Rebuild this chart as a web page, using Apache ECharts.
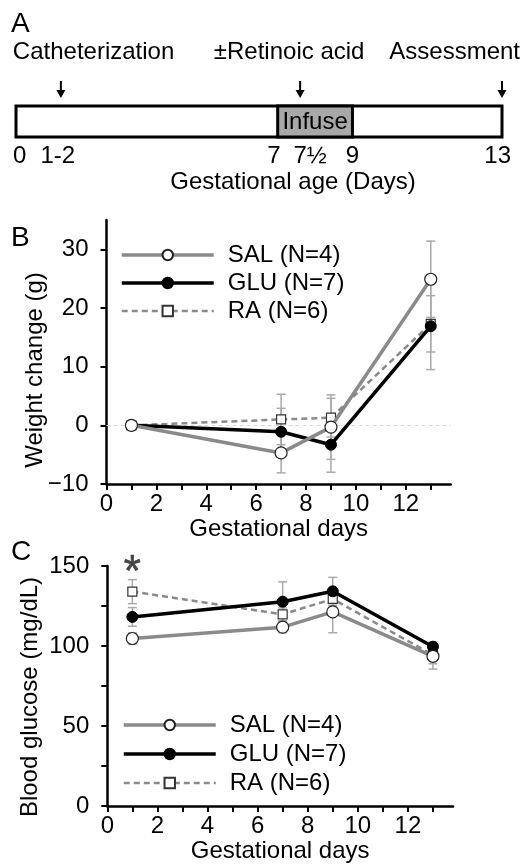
<!DOCTYPE html>
<html><head><meta charset="utf-8">
<script src="https://cdn.jsdelivr.net/npm/echarts@6/dist/echarts.min.js"></script>
<style>html,body{margin:0;padding:0;background:#fff}#c{width:526px;height:864px}</style>
</head><body><div id="c"></div>
<script>
// ---------- data ----------
const days = [1, 7, 9, 13];
const seriesNames = ['SAL (N=4)', 'GLU (N=7)', 'RA (N=6)'];
// Panel B: weight change (g)
const salWeight = [0, -4.7, -0.3, 24.9];
const salWeightErr = [0, 3.4, 5.5, 6.5];
const gluWeight = [0, -1.1, -3.3, 16.9];
const gluWeightErr = [0, 4.0, 4.7, 7.4];
const raWeight = [0, 1.0, 1.3, 17.3];
const raWeightErr = [0, 4.3, 3.3, 4.8];
// Panel C: blood glucose (mg/dL)
const salGlucose = [104.7, 111.8, 121.3, 93.6];
const salGlucoseErr = [3.5, 3.5, 13, 8];
const gluGlucose = [118.2, 127.7, 134.2, 99.6];
const gluGlucoseErr = [5.8, 12.4, 8.7, 3];
const raGlucose = [134, 119.8, 129.4, 94.4];
const raGlucoseErr = [7.5, 4, 5, 5.5];
const significance = [[1, 148, '*']];
// ticks
const dayTicks = [0, 1, 2, 3, 4, 5, 6, 7, 8, 9, 10, 11, 12, 13];
const dayTickLabels = [0, 2, 4, 6, 8, 10, 12];
const weightTicks = [-10, 0, 10, 20, 30];
const glucoseTicks = [0, 25, 50, 75, 100, 125, 150];
const glucoseTickLabels = [0, 50, 100, 150];
// Panel A: timeline schematic
const timelineSpan = [0, 13];
const infuseSpan = [7, 9];
const infuseLabel = 'Infuse';
const timelineTickDays = [0, 1.2, 7, 7.5, 9, 13];
const timelineTickLabels = ['0', '1-2', '7', '7½', '9', '13'];
const eventDays = [1.2, 7.6, 13];
const eventLabels = ['Catheterization', '±Retinoic acid', 'Assessment'];

// ---------- styles ----------
const FONT = "'Liberation Sans', Arial, sans-serif";
const FS = 24;
const GRAY = '#8a8a8a';
const ERR = '#aaaaaa';
const tickLabelAlign = [['left', -3], ['center', -3], ['right', 3], ['left', -3], ['center', 0], ['right', 9]];
const eventAlign = [['left', -48], ['center', -11], ['right', 18]];

const styleOf = [
  { lineStyle: { color: GRAY, width: 3.5 }, itemStyle: { color: '#fff', borderColor: '#222', borderWidth: 1.2 }, symbol: 'circle', symbolSize: 12 },
  { lineStyle: { color: '#000', width: 3.5 }, itemStyle: { color: '#000', borderColor: '#000', borderWidth: 1 }, symbol: 'circle', symbolSize: 11 },
  { lineStyle: { color: GRAY, width: 2.5, type: [6, 4] }, itemStyle: { color: '#fff', borderColor: '#333', borderWidth: 1.2 }, symbol: 'rect', symbolSize: 9 }
];

function lineSeries(idx, values, axisIdx, extra) {
  return Object.assign({
    type: 'line', name: seriesNames[idx], xAxisIndex: axisIdx, yAxisIndex: axisIdx,
    data: days.map((d, i) => [d, values[i]]),
    color: styleOf[idx].lineStyle.color,
    lineStyle: styleOf[idx].lineStyle, itemStyle: styleOf[idx].itemStyle,
    symbol: styleOf[idx].symbol, symbolSize: styleOf[idx].symbolSize,
    showAllSymbol: true, z: 10 - idx, animation: false, emphasis: { disabled: true }
  }, extra || {});
}

function errData(values, errs) {
  const out = [];
  days.forEach((d, i) => { if (errs[i] > 0) out.push([d, values[i] - errs[i], values[i] + errs[i]]); });
  return out;
}
function errRender(params, api) {
  const x = api.value(0);
  const p1 = api.coord([x, api.value(1)]), p2 = api.coord([x, api.value(2)]);
  const w = 4.5, st = { stroke: ERR, lineWidth: 1.5 };
  return { type: 'group', children: [
    { type: 'line', shape: { x1: p1[0], y1: p1[1], x2: p2[0], y2: p2[1] }, style: st },
    { type: 'line', shape: { x1: p1[0] - w, y1: p1[1], x2: p1[0] + w, y2: p1[1] }, style: st },
    { type: 'line', shape: { x1: p2[0] - w, y1: p2[1], x2: p2[0] + w, y2: p2[1] }, style: st }
  ] };
}
function errSeries(values, errs, axisIdx) {
  return { type: 'custom', xAxisIndex: axisIdx, yAxisIndex: axisIdx, data: errData(values, errs),
    encode: { x: 0, y: [1, 2] }, renderItem: errRender, z: 2, silent: true, animation: false };
}
const minusFmt = v => String(v).replace('-', '\u2212');

const axisCommon = {
  axisLine: { show: true, onZero: false, lineStyle: { color: '#000', width: 2.5 } },
  axisTick: { show: true, length: 6, lineStyle: { color: '#000', width: 2 } },
  splitLine: { show: false },
  axisLabel: { color: '#000', fontSize: FS, fontFamily: FONT, formatter: minusFmt }
};
function xAxisDays(gridIndex) {
  return echarts.util.merge({
    type: 'value', gridIndex, min: 0, max: 13.8,
    name: 'Gestational days', nameLocation: 'middle', nameGap: 31,
    nameTextStyle: { color: '#000', fontSize: FS, fontFamily: FONT },
    axisTick: { customValues: dayTicks },
    axisLabel: { customValues: dayTickLabels, margin: 8 }
  }, echarts.util.clone(axisCommon), false);
}
function legendAt(left, top, gap) {
  return { left, top, padding: 0, orient: 'vertical', itemWidth: 92, itemHeight: 13, itemGap: gap, selectedMode: false,
    data: seriesNames, lineStyle: { width: 'inherit' },
    textStyle: { fontSize: FS, fontFamily: FONT, color: '#000', lineHeight: 24, padding: [0, 0, 0, 9] } };
}

const option = {
  backgroundColor: '#fff',
  animation: false,
  textStyle: { fontFamily: FONT },
  grid: [
    { left: 106.5, right: 75.3, top: 220, bottom: 380 },
    { left: 107.3, right: 73, top: 566, bottom: 50.7 },
    { left: 16, width: 486, top: 106, height: 31 }
  ],
  xAxis: [
    xAxisDays(0),
    xAxisDays(1),
    { type: 'value', gridIndex: 2, min: 0, max: 13, show: false }
  ],
  yAxis: [
    echarts.util.merge({ type: 'value', gridIndex: 0, min: -10, max: 35,
      axisTick: { customValues: weightTicks }, axisLabel: { customValues: weightTicks, margin: 18 } }, echarts.util.clone(axisCommon), false),
    echarts.util.merge({ type: 'value', gridIndex: 1, min: 0, max: 150,
      axisTick: { customValues: glucoseTicks }, axisLabel: { customValues: glucoseTickLabels, margin: 18 } }, echarts.util.clone(axisCommon), false),
    { type: 'value', gridIndex: 2, min: 0, max: 1, show: false }
  ],
  legend: [ legendAt(120, 243, 4), legendAt(122, 713, 5) ],
  graphic: [
    { type: 'text', left: 11, top: 10, style: { text: 'A', fontSize: 28, fontFamily: FONT, fill: '#000' } },
    { type: 'text', left: 11, top: 224, style: { text: 'B', fontSize: 28, fontFamily: FONT, fill: '#000' } },
    { type: 'text', left: 11, top: 538, style: { text: 'C', fontSize: 28, fontFamily: FONT, fill: '#000' } },
    { type: 'text', x: 293, y: 182, style: { text: 'Gestational age (Days)', fontSize: FS, fontFamily: FONT, fill: '#000', align: 'center', verticalAlign: 'middle' } },
    { type: 'text', x: 35, y: 370, rotation: Math.PI / 2, style: { text: 'Weight change (g)', fontSize: FS, fontFamily: FONT, fill: '#000', align: 'center', verticalAlign: 'middle' } },
    { type: 'text', x: 30, y: 697, rotation: Math.PI / 2, style: { text: 'Blood glucose (mg/dL)', fontSize: FS, fontFamily: FONT, fill: '#000', align: 'center', verticalAlign: 'middle' } }
  ],
  series: [
    // Panel B
    errSeries(salWeight, salWeightErr, 0),
    errSeries(gluWeight, gluWeightErr, 0),
    errSeries(raWeight, raWeightErr, 0),
    lineSeries(0, salWeight, 0),
    lineSeries(1, gluWeight, 0, { markLine: { silent: true, symbol: 'none', label: { show: false },
      lineStyle: { color: '#d9d9d9', width: 1, type: [4, 3] }, data: [{ yAxis: 0 }] } }),
    lineSeries(2, raWeight, 0),
    // Panel C
    errSeries(salGlucose, salGlucoseErr, 1),
    errSeries(gluGlucose, gluGlucoseErr, 1),
    errSeries(raGlucose, raGlucoseErr, 1),
    lineSeries(0, salGlucose, 1),
    lineSeries(1, gluGlucose, 1),
    lineSeries(2, raGlucose, 1),
    { type: 'custom', xAxisIndex: 1, yAxisIndex: 1, data: significance, silent: true, z: 12,
      renderItem: (params, api) => {
        const p = api.coord([api.value(0), api.value(1)]);
        return { type: 'text', x: p[0], y: p[1] + 5, style: { text: '*', fontSize: 44, fontFamily: FONT, fill: '#444', stroke: '#444', lineWidth: 0.6, align: 'center', verticalAlign: 'middle' } };
      } },
    // Panel A: timeline bar
    { type: 'custom', xAxisIndex: 2, yAxisIndex: 2, data: [timelineSpan], silent: true, z: 1, clip: false,
      renderItem: (params, api) => {
        const a = api.coord([api.value(0), 1]), b = api.coord([api.value(1), 0]);
        return { type: 'rect', shape: { x: a[0], y: a[1], width: b[0] - a[0], height: b[1] - a[1] },
          style: { fill: '#fff', stroke: '#000', lineWidth: 3 } };
      } },
    { type: 'custom', xAxisIndex: 2, yAxisIndex: 2, data: [[infuseSpan[0], infuseSpan[1], infuseLabel]], silent: true, z: 2, clip: false,
      renderItem: (params, api) => {
        const a = api.coord([api.value(0), 1]), b = api.coord([api.value(1), 0]);
        return { type: 'group', children: [
          { type: 'rect', shape: { x: a[0], y: a[1], width: b[0] - a[0], height: b[1] - a[1] },
            style: { fill: '#a8a8a8', stroke: '#000', lineWidth: 3 } },
          { type: 'text', x: (a[0] + b[0]) / 2, y: (a[1] + b[1]) / 2 + 1,
            style: { text: infuseLabel, fontSize: FS, fontFamily: FONT, fill: '#000', align: 'center', verticalAlign: 'middle' } }
        ] };
      } },
    { type: 'custom', xAxisIndex: 2, yAxisIndex: 2, silent: true, z: 3, clip: false,
      data: timelineTickDays.map((d, i) => [d, timelineTickLabels[i]]),
      renderItem: (params, api) => {
        const p = api.coord([api.value(0), 0]);
        const al = tickLabelAlign[params.dataIndex];
        return { type: 'text', x: p[0] + al[1], y: p[1] + 19,
          style: { text: timelineTickLabels[params.dataIndex], fontSize: FS, fontFamily: FONT, fill: '#000', align: al[0], verticalAlign: 'middle' } };
      } },
    { type: 'custom', xAxisIndex: 2, yAxisIndex: 2, silent: true, z: 3, clip: false,
      data: eventDays.map((d, i) => [d, eventLabels[i]]),
      renderItem: (params, api) => {
        const p = api.coord([api.value(0), 1]);
        const al = eventAlign[params.dataIndex];
        const x = p[0], yTip = p[1] - 8;
        return { type: 'group', children: [
          { type: 'line', shape: { x1: x, y1: yTip - 17, x2: x, y2: yTip - 6 }, style: { stroke: '#000', lineWidth: 2 } },
          { type: 'polygon', shape: { points: [[x - 4.5, yTip - 8], [x + 4.5, yTip - 8], [x, yTip]] }, style: { fill: '#000' } },
          { type: 'text', x: x + al[1], y: p[1] - 54,
            style: { text: eventLabels[params.dataIndex], fontSize: FS, fontFamily: FONT, fill: '#000', align: al[0], verticalAlign: 'middle' } }
        ] };
      } }
  ]
};
const chart = echarts.init(document.getElementById('c'), null, { renderer: 'canvas' });
chart.setOption(option);
</script></body></html>
